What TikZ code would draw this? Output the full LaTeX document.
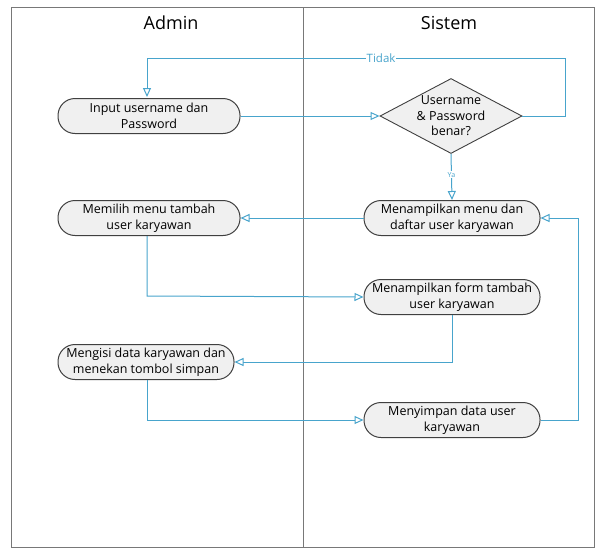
\documentclass[tikz,border=0pt]{standalone}
\usepackage{fontspec}
\setmainfont{Open Sans}
\usetikzlibrary{arrows.meta,shapes.geometric}
\definecolor{flow}{RGB}{72,164,204}
\definecolor{boxfill}{RGB}{240,240,240}
\definecolor{boxline}{RGB}{64,64,64}
\definecolor{lane}{RGB}{120,120,120}
\tikzset{
  act/.style={draw=boxline, fill=boxfill, line width=1pt, rounded corners=17pt,
    minimum height=35pt, align=center, font=\fontsize{12.5}{16}\selectfont, inner sep=0pt},
  decide/.style={diamond, draw=boxline, fill=boxfill, line width=0.9pt,
    inner sep=0pt, minimum width=142pt, minimum height=75pt},
  decidetext/.style={align=center, font=\fontsize{12.5}{15.5}\selectfont, inner sep=0pt},
  flowline/.style={draw=flow, line width=1pt,
    -{Triangle[open, length=9pt, width=8pt, fill=white]}},
  flowlabel/.style={fill=white, inner sep=1pt, text=flow},
  lanetitle/.style={font=\fontsize{18}{20}\selectfont},
}
\begin{document}
\begin{tikzpicture}[x=1pt, y=-1pt]
\useasboundingbox (0,0) rectangle (597,549);
% swimlanes
\draw[lane, line width=0.8pt] (11,7) rectangle (594,547);
\draw[lane, line width=0.8pt] (303,7) -- (303,547);
\node[lanetitle] (hAdmin) at (171,23) {Admin};
\node[lanetitle] (hSistem) at (449,23) {Sistem};

% activities
\node[act, minimum width=182pt] (input) at (149,116) {Input username dan\\Password};
\node[decide, label={[decidetext]center:Username\\\& Password\\benar?}] (cek) at (451,116) {};
\node[act, minimum width=176pt] (menu) at (452,218) {Menampilkan menu dan\\daftar user karyawan};
\node[act, minimum width=182pt] (pilih) at (149,218) {Memilih menu tambah\\user karyawan};
\node[act, minimum width=176pt] (form) at (452,297) {Menampilkan form tambah\\user karyawan};
\node[act, minimum width=176pt] (isi) at (146,362) {Mengisi data karyawan dan\\menekan tombol simpan};
\node[act, minimum width=176pt] (simpan) at (452,420) {Menyimpan data user\\karyawan};

% connectors
\draw[flowline] (input.east) -- (cek.west);
\draw[flowline] (cek.east) -- (565,116) -- (565,58)
  -- node[pos=0.44, flowlabel, font=\fontsize{11.5}{13}\selectfont] (tidak) {Tidak}
  (147,58) -- (147,97);
\draw[flowline] (cek.south) -- node[pos=0.45, flowlabel, font=\fontsize{7}{8}\selectfont] (ya) {Ya} (menu.north);
\draw[flowline] (menu.west) -- (pilih.east);
\draw[flowline] (pilih.south -| 147,0) -- (147,296) -- (form.west);
\draw[flowline] (form.south) -- (452,362) -- (isi.east);
\draw[flowline] (isi.south -| 147,0) -- (147,420) -- (simpan.west);
\draw[flowline] (simpan.east) -- (578,420) -- (578,218) -- (menu.east);
\end{tikzpicture}
\end{document}
